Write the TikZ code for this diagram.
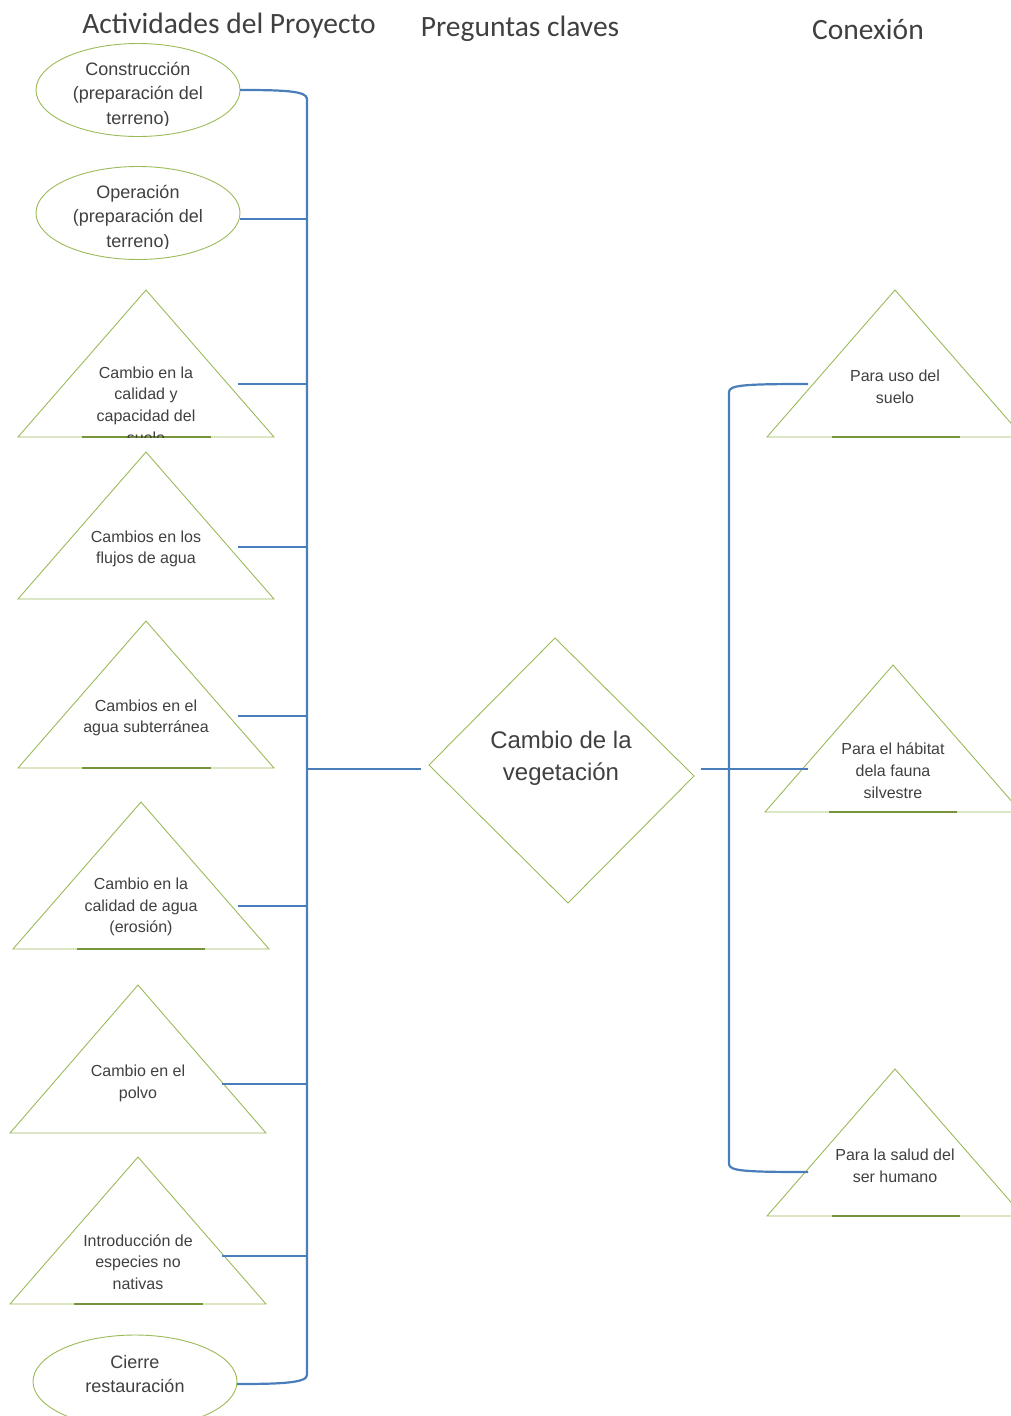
\documentclass[tikz,border=0pt]{standalone}
\usepackage{fontspec}
\setmainfont{Liberation Sans}
\newfontfamily\headfont{Carlito}
\usetikzlibrary{shapes.geometric}

\definecolor{linkblue}{RGB}{74,126,187}
\definecolor{shapegreen}{RGB}{155,187,89}
\definecolor{basegreen}{RGB}{119,147,60}
\definecolor{inktext}{RGB}{64,64,64}

\tikzset{
  heading/.style={font=\headfont\fontsize{29.5}{34}\selectfont, text=inktext, inner sep=0},
  lbl/.style={font=\fontsize{16}{21.7}\selectfont, text=inktext, align=center, inner sep=0},
  elbl/.style={font=\fontsize{18}{24.5}\selectfont, text=inktext, align=center, inner sep=0},
  dlbl/.style={font=\fontsize{24}{32}\selectfont, text=inktext, align=center, inner sep=0},
  actell/.style={ellipse, draw=shapegreen, line width=0.9pt, fill=white,
    minimum width=204pt, minimum height=93pt, inner sep=0},
  tri/.style={draw=shapegreen, line width=0.9pt, fill=white, line join=miter},
  tribase/.style={draw=basegreen, line width=1.2pt},
  conn/.style={draw=linkblue, line width=2.2pt},
}

\begin{document}
\begin{tikzpicture}[x=1pt, y=-1pt]
\useasboundingbox (0,0) rectangle (1011,1416);
\clip (0,0) rectangle (1011,1416);

% column headings
\node[heading] (h1) at (229,26) {Actividades del Proyecto};
\node[heading] (h2) at (520,29) {Preguntas claves};
\node[heading] (h3) at (868,29) {Conexión};

% project activities: ellipses
\node[actell] (e1) at (138,90) {};
\begin{scope}
  \clip (0,40) rectangle (300,125.5);
  \node[elbl] (e1t) at (138,95) {Construcción\\(preparación del\\terreno)};
\end{scope}
\node[actell] (e2) at (138,213) {};
\begin{scope}
  \clip (0,160) rectangle (300,248.5);
  \node[elbl] (e2t) at (138,218) {Operación\\(preparación del\\terreno)};
\end{scope}
\node[actell] (e3) at (135,1381.5) {};
\node[elbl] (e3t) at (135,1374) {Cierre\\restauración};

% project activities: triangles
\coordinate (t1) at (146,290);
\draw[tri] (t1) -- ++(128,147) -- ++(-256,0) -- cycle;
\draw[tribase] (82,437) -- (211,437);
\begin{scope}
  \clip (0,290) rectangle (300,437);
  \node[lbl] (t1t) at (146,405) {Cambio en la\\calidad y\\capacidad del\\suelo};
\end{scope}

\coordinate (t2) at (146,452);
\draw[tri] (t2) -- ++(128,147) -- ++(-256,0) -- cycle;
\node[lbl] (t2t) at (146,549) {Cambios en los\\flujos de agua};

\coordinate (t3) at (146,621);
\draw[tri] (t3) -- ++(128,147) -- ++(-256,0) -- cycle;
\draw[tribase] (82,768) -- (211,768);
\node[lbl] (t3t) at (146,718) {Cambios en el\\agua subterránea};

\coordinate (t4) at (141,802);
\draw[tri] (t4) -- ++(128,147) -- ++(-256,0) -- cycle;
\draw[tribase] (77,949) -- (205,949);
\node[lbl] (t4t) at (141,907) {Cambio en la\\calidad de agua\\(erosión)};

\coordinate (t5) at (138,985);
\draw[tri] (t5) -- ++(128,148) -- ++(-256,0) -- cycle;
\node[lbl] (t5t) at (138,1083) {Cambio en el\\polvo};

\coordinate (t6) at (138,1157);
\draw[tri] (t6) -- ++(128,147) -- ++(-256,0) -- cycle;
\draw[tribase] (74,1304) -- (203,1304);
\node[lbl] (t6t) at (138,1262) {Introducción de\\especies no\\nativas};

% key question
\coordinate (dtop) at (555,638);
\coordinate (dleft) at (429,765);
\coordinate (dbottom) at (568,903);
\coordinate (dright) at (694,776);
\draw[tri] (dtop) -- (dright) -- (dbottom) -- (dleft) -- cycle;
\node[dlbl] (d) at (561,758) {Cambio de la\\vegetación};

% connections
\coordinate (r1) at (895,290);
\draw[tri] (r1) -- ++(128,147) -- ++(-256,0) -- cycle;
\draw[tribase] (832,437) -- (960,437);
\node[lbl] (r1t) at (895,387) {Para uso del\\suelo};

\coordinate (r2) at (893,665);
\draw[tri] (r2) -- ++(128,147) -- ++(-256,0) -- cycle;
\draw[tribase] (829,812) -- (957,812);
\node[lbl] (r2t) at (893,770.5) {Para el hábitat\\dela fauna\\silvestre};

\coordinate (r3) at (895,1069);
\draw[tri] (r3) -- ++(128,147) -- ++(-256,0) -- cycle;
\draw[tribase] (832,1216) -- (960,1216);
\node[lbl] (r3t) at (895,1166) {Para la salud del\\ser humano};

% attachment points of the connectors
\coordinate (e1c) at (240,90);
\coordinate (e2c) at (240,219);
\coordinate (e3c) at (237,1384);
\coordinate (t1c) at (238,384);
\coordinate (t2c) at (238,547);
\coordinate (t3c) at (238,716);
\coordinate (t4c) at (238,906);
\coordinate (t5c) at (222,1084);
\coordinate (t6c) at (222,1256);
\coordinate (bus) at (307,769);
\coordinate (dlc) at (421,769);
\coordinate (drc) at (701,769);
\coordinate (rbus) at (729,769);
\coordinate (r1c) at (808,384);
\coordinate (r2c) at (808,769);
\coordinate (r3c) at (808,1172);

% left bus with rounded ends
\draw[conn] (e1c) .. controls (285,90) and (307,91) .. (307,99)
  -- (307,1375) .. controls (307,1383) and (280,1384) .. (e3c);
\foreach \p in {e2c,t1c,t2c,t3c,t4c,t5c,t6c}
  \draw[conn] (\p) -- (\p -| bus);
\draw[conn] (bus) -- (dlc);

% right bus with rounded ends
\draw[conn] (r1c) .. controls (745,384) and (729,385) .. (729,392)
  -- (729,1164) .. controls (729,1171) and (745,1172) .. (r3c);
\draw[conn] (drc) -- (r2c);
\end{tikzpicture}
\end{document}
